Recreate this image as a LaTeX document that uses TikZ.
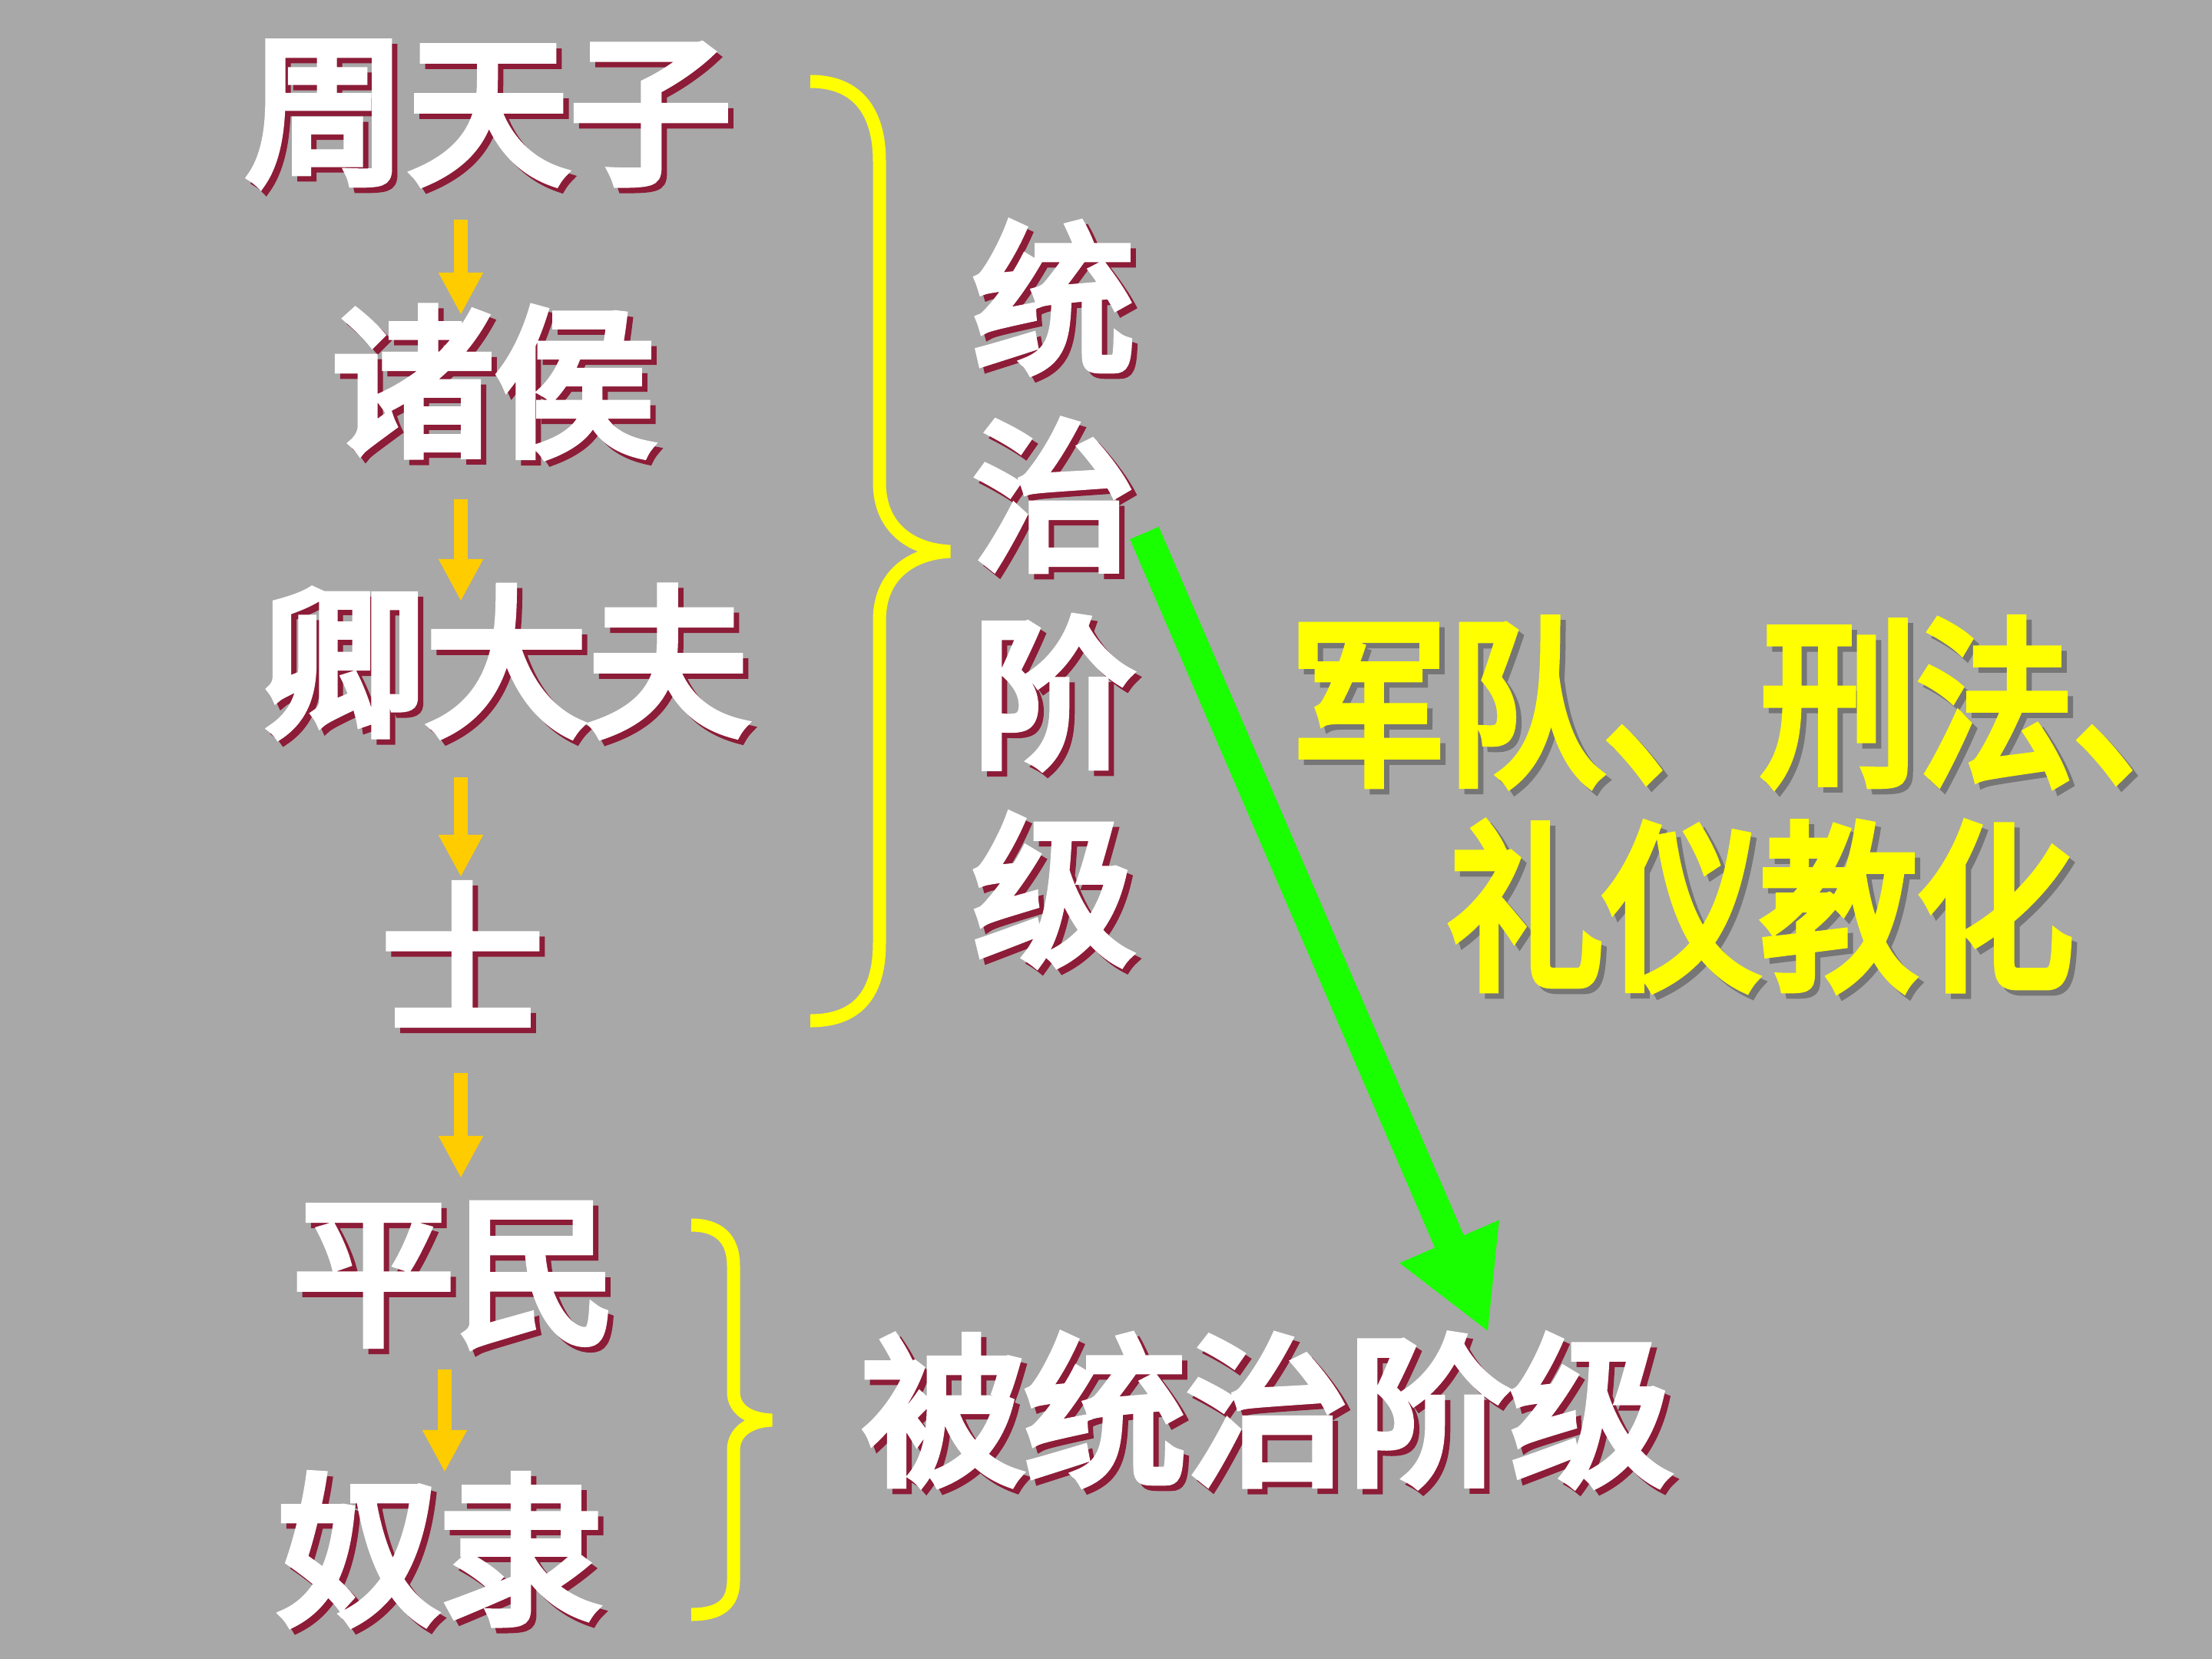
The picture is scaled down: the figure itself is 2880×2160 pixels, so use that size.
\documentclass[tikz,border=0pt]{standalone}
\usepackage{fontspec}
\newfontfamily\cjk{Noto Sans CJK SC}[FakeBold=5]
\usetikzlibrary{arrows.meta}
\definecolor{bgc}{RGB}{168,168,168}
\definecolor{shred}{RGB}{140,28,55}
\definecolor{shgray}{RGB}{118,118,118}
\definecolor{orng}{RGB}{255,204,0}
\definecolor{grn}{RGB}{26,255,0}
\definecolor{ylw}{RGB}{255,255,0}
\tikzset{
  wt/.style={font=\cjk\fontsize{60}{73}\selectfont, text=white, inner sep=0pt, align=center},
  wts/.style={wt, text=shred, xshift=0.07cm, yshift=-0.07cm},
  yt/.style={font=\cjk\fontsize{58}{70}\selectfont, text=ylw, inner sep=0pt},
  yts/.style={yt, text=shgray, xshift=0.07cm, yshift=-0.07cm},
  oarrow/.style={draw=orng, line width=0.18cm, -{Triangle[length=0.55cm,width=0.54cm]}},
  garrow/.style={draw=grn, line width=0.41cm, -{Triangle[length=1.29cm,width=1.31cm]}},
  ybrace/.style={draw=ylw, line width=0.17cm}
}
\newcommand\wlabel[3]{\node[wts] (#1s) at (#2) {#3}; \node[wt] (#1) at (#2) {#3};}
\begin{document}
\begin{tikzpicture}[x=0.01cm,y=-0.01cm]
\fill[bgc] (0,0) rectangle (2880,2160);
\useasboundingbox (0,0) rectangle (2880,2160);

% braces
\draw[ybrace] (1055,106) .. controls (1120,106) and (1145,150) .. (1145,210)
  -- (1145,628) .. controls (1145,690) and (1190,716) .. (1237,718)
  .. controls (1190,720) and (1145,746) .. (1145,808)
  -- (1145,1228) .. controls (1145,1290) and (1120,1329) .. (1055,1329);
\draw[ybrace] (900,1595) .. controls (935,1595) and (955,1612) .. (955,1648)
  -- (955,1812) .. controls (955,1835) and (975,1848) .. (1005,1849)
  .. controls (975,1850) and (955,1865) .. (955,1888)
  -- (955,2058) .. controls (955,2090) and (935,2102) .. (900,2102);

% green arrow
\coordinate (g1) at (1490,694);
\coordinate (g2) at (1938,1735);
\draw[garrow] (g1) -- (g2);

% white labels
\wlabel{king}{636,148}{周天子}
\wlabel{lords}{643,497}{诸侯}
\wlabel{qing}{659,861}{卿大夫}
\wlabel{shi}{602,1242}{士}
\wlabel{ping}{592,1660}{平民}
\wlabel{nu}{573,2017}{奴隶}
\wlabel{ruled}{1650,1836}{被统治阶级}
\wlabel{ruling}{1372,773}{统\\治\\阶\\级}

% yellow text
\node[yts] (y1s) at (2292,914) {\scalebox{1}[1.15]{军队、刑法、}};
\node[yt] (y1) at (2292,914) {\scalebox{1}[1.15]{军队、刑法、}};
\node[yts] (y2s) at (2292,1180) {\scalebox{1}[1.15]{礼仪教化}};
\node[yt] (y2) at (2292,1180) {\scalebox{1}[1.15]{礼仪教化}};

% orange arrows
\coordinate (o1a) at (600,286);  \coordinate (o1b) at (600,410);
\coordinate (o2a) at (600,650);  \coordinate (o2b) at (600,783);
\coordinate (o3a) at (600,1012); \coordinate (o3b) at (600,1142);
\coordinate (o4a) at (600,1397); \coordinate (o4b) at (600,1534);
\coordinate (o5a) at (579,1783); \coordinate (o5b) at (579,1917);
\draw[oarrow] (o1a) -- (o1b);
\draw[oarrow] (o2a) -- (o2b);
\draw[oarrow] (o3a) -- (o3b);
\draw[oarrow] (o4a) -- (o4b);
\draw[oarrow] (o5a) -- (o5b);
\end{tikzpicture}
\end{document}
